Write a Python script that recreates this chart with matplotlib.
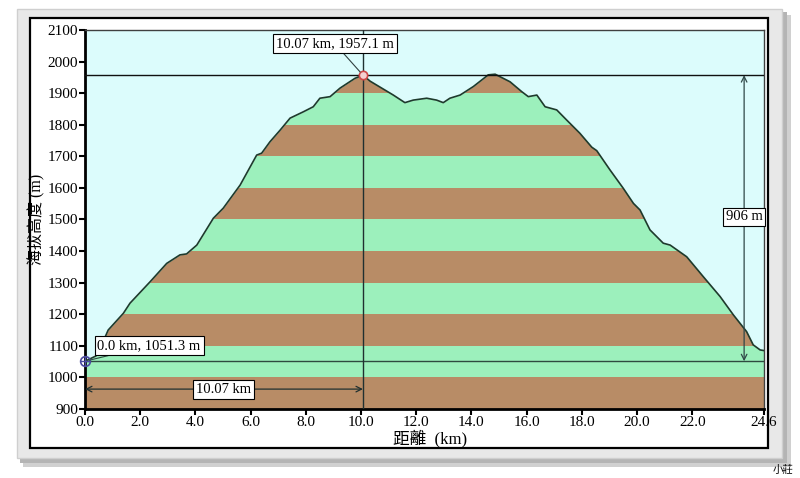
import numpy as np
import matplotlib
matplotlib.use('Agg')
import matplotlib.pyplot as plt
from matplotlib.patches import Rectangle

# elevation profile
dist = [0.0, 0.40, 0.62, 0.84, 1.39, 1.63, 2.36, 2.96, 3.44, 3.68, 4.05, 4.65,
        5.01, 5.62, 6.22, 6.40, 6.70, 7.07, 7.43, 7.91, 8.27, 8.51, 8.88, 9.24,
        9.78, 10.07, 10.33, 11.17, 11.59, 11.89, 12.38, 12.74, 12.98, 13.22,
        13.59, 14.07, 14.61, 14.86, 15.40, 15.82, 16.06, 16.37, 16.67, 17.09,
        17.45, 17.93, 18.36, 18.54, 19.02, 19.50, 19.87, 20.11, 20.47, 20.95,
        21.20, 21.80, 22.40, 23.01, 23.49, 23.97, 24.21, 24.46, 24.6]
elev = [1051.3, 1068, 1106, 1150, 1203, 1235, 1303, 1361, 1388, 1391, 1419, 1504,
        1536, 1609, 1704, 1710, 1746, 1783, 1821, 1841, 1857, 1884, 1889, 1916,
        1947, 1957.1, 1938, 1894, 1870, 1878, 1884, 1878, 1870, 1884,
        1894, 1921, 1958, 1960, 1936, 1905, 1889, 1894, 1857, 1847,
        1815, 1773, 1729, 1718, 1657, 1599, 1551, 1530, 1467, 1425,
        1419, 1382, 1319, 1256, 1198, 1145, 1103, 1087, 1085]

x_ticks = [0, 2, 4, 6, 8, 10, 12, 14, 16, 18, 20, 22, 24.6]
x_labels = ['0.0', '2.0', '4.0', '6.0', '8.0', '10.0', '12.0', '14.0', '16.0',
            '18.0', '20.0', '22.0', '24.6']
y_ticks = list(range(900, 2101, 100))

start_pt = (0.0, 1051.3)
peak_pt = (10.07, 1957.1)
climb = 906

W, H = 800, 478
fig = plt.figure(figsize=(8, 4.78), dpi=100)
fig.patch.set_facecolor('white')

def px_rect(x0, y0, x1, y1, **kw):
    return Rectangle((x0 / W, 1 - y1 / H), (x1 - x0) / W, (y1 - y0) / H,
                     transform=fig.transFigure, **kw)

# frame: shadow, textured gray border, white panel
fig.patches.append(px_rect(23, 15, 791, 467, fc='#d0d0d0', ec='none', zorder=0))
fig.patches.append(px_rect(20, 12, 787, 463, fc='#b4b4b4', ec='none', zorder=0))
fig.patches.append(px_rect(17, 9, 782, 458, fc='#e8e8e8', ec='#cfcfcf', lw=1, zorder=1))
fig.patches.append(px_rect(30, 18, 768, 448, fc='white', ec='black', lw=1.6, zorder=2))

ax = fig.add_axes([85 / W, 1 - 409 / H, 679 / W, 379 / H])
ax.set_zorder(3)
sky = '#dcfcfc'
ax.set_facecolor(sky)

d = np.array(dist)
h = np.array(elev)
green = '#9cf0bc'
brown = '#b88c66'
for i, lo in enumerate(range(900, 2100, 100)):
    col = brown if i % 2 == 0 else green
    ax.axhspan(lo, lo + 100, color=col, lw=0, zorder=1)
# sky above the profile
ax.fill_between(d, h, 2100, color=sky, lw=0, zorder=2)
ax.plot(d, h, color='#1e3a2c', lw=1.2, zorder=3)

# reference lines
ax.axhline(peak_pt[1], color='#101010', lw=1.0, zorder=4)
ax.axhline(start_pt[1], color='#2e4a40', lw=1.0, zorder=4)
ax.axvline(peak_pt[0], color='#203030', lw=1.0, zorder=4)

# markers
ax.plot(*start_pt, marker='o', ms=7, mfc='none', mec='#4a4aa0', mew=1.2,
        zorder=6, clip_on=False)
ax.plot(*start_pt, marker='+', ms=7, mec='#4a4aa0', mew=1.0, zorder=6, clip_on=False)
ax.plot(*peak_pt, marker='o', ms=6, mfc='#f4d0d0', mec='#d04848', mew=1.2, zorder=6)

serif = ['Liberation Serif', 'Noto Sans CJK TC']
box = dict(boxstyle='square,pad=0.2', fc='white', ec='black', lw=0.8)

ax.annotate('0.0 km, 1051.3 m', xy=start_pt, xytext=(0.45, 1100),
            fontsize=10.5, family=serif, va='center', ha='left', bbox=box,
            arrowprops=dict(arrowstyle='-', color='#2e4a40', lw=0.8,
                            shrinkA=0, shrinkB=3), zorder=7)
ax.annotate('10.07 km, 1957.1 m', xy=peak_pt, xytext=(9.06, 2056),
            fontsize=10.5, family=serif, va='center', ha='center', bbox=box,
            arrowprops=dict(arrowstyle='-', color='#304040', lw=0.8,
                            shrinkA=0, shrinkB=3), zorder=7)

# distance arrow
ax.annotate('', xy=(0, 963), xytext=(peak_pt[0], 963),
            arrowprops=dict(arrowstyle='<->', color='#203030', lw=0.9,
                            shrinkA=0, shrinkB=0), zorder=5)
ax.text(peak_pt[0] / 2, 963, '%.2f km' % peak_pt[0], fontsize=10.5, family=serif,
        ha='center', va='center', bbox=box, zorder=7)

# climb arrow
arr_x = 23.88
ax.annotate('', xy=(arr_x, start_pt[1]), xytext=(arr_x, peak_pt[1]),
            arrowprops=dict(arrowstyle='<->', color='#304848', lw=0.9,
                            shrinkA=0, shrinkB=0), zorder=5)
ax.text(arr_x, 1508, '%d m' % climb, fontsize=10.5, family=serif,
        ha='center', va='center', bbox=box, zorder=7)

ax.set_xlim(0, 24.6)
ax.set_ylim(900, 2100)
ax.set_xticks(x_ticks)
ax.set_xticklabels(x_labels, family=serif, fontsize=11)
ax.set_yticks(y_ticks)
ax.set_yticklabels([str(v) for v in y_ticks], family=serif, fontsize=11)
ax.tick_params(direction='out', length=4, width=1.5, color='black', pad=1)
for s in ['left', 'bottom']:
    ax.spines[s].set_linewidth(2)
for s in ['top', 'right']:
    ax.spines[s].set_linewidth(1)
    ax.spines[s].set_color('#404040')

ax.set_xlabel('距離  (km)', family=serif, fontsize=12)
ax.xaxis.set_label_coords(0.508, -0.055)
ax.set_ylabel('海拔高度 (m)', family=serif, fontsize=11.5)
ax.yaxis.set_label_coords(-0.058, 0.5)

fig.text(783 / W, 1 - 470 / H, '小莊', family=['Noto Sans CJK TC'], fontsize=7.5,
         ha='center', va='center')

fig.savefig('out.png', dpi=100)
